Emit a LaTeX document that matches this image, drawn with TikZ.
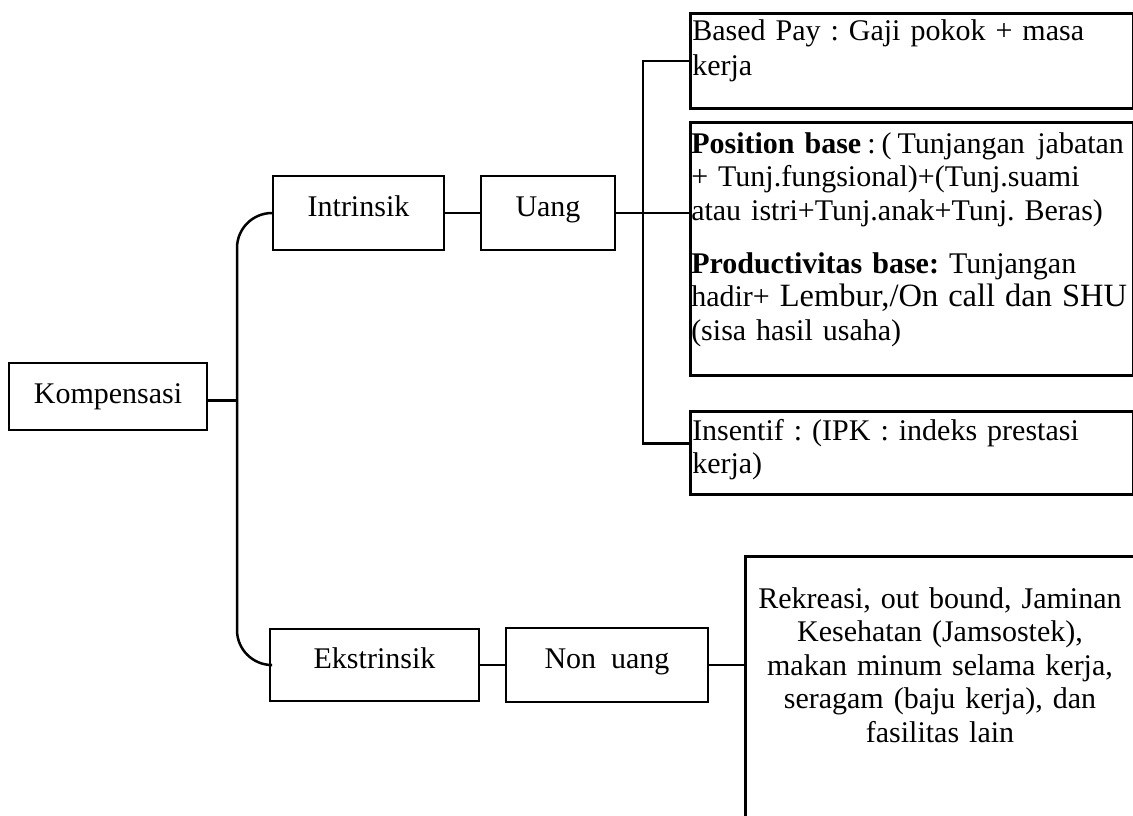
\documentclass[tikz,border=0pt]{standalone}
\usepackage{fontspec}
\setmainfont{Liberation Serif}
\frenchspacing
\begin{document}
\begin{tikzpicture}[x=0.4pt,y=-0.4pt,line width=1pt,
  every node/.style={font=\fontsize{12}{13.4}\selectfont\frenchspacing, inner sep=0pt},
  cbox/.style={draw, text height=8.2pt, text depth=5.8pt},
  panel/.style={draw, anchor=north west, minimum width=177.2pt},
  ltext/.style={align=left, text width=200pt, anchor=base west},
  ctext/.style={align=center, text width=170pt, anchor=base}]
\useasboundingbox (0,0) rectangle (1133,815);
\clip (0,0) rectangle (1133,815);

% first level
\node[cbox, minimum width=79.2pt, minimum height=26.8pt, text depth=3pt] (komp) at (108,396.5) {Kompensasi};

% second and third level boxes
\node[cbox, minimum width=68.4pt, minimum height=29.6pt] (intr) at (358.5,213) {Intrinsik};
\node[cbox, minimum width=53.6pt, minimum height=29.6pt] (uang) at (548,213) {Uang};
\node[cbox, minimum width=83.6pt, minimum height=28.8pt] (ekst) at (374.5,665) {Ekstrinsik};
\node[cbox, minimum width=80.8pt, minimum height=29.6pt] (nonu) at (607,665) {Non\ \ uang};

% detail panels
\node[panel, minimum height=38pt] (b1) at (689,12) {};
\node[panel, minimum height=101.2pt] (b2) at (689,121) {};
\node[panel, minimum height=33.2pt] (b3) at (689,410) {};
\node[draw, anchor=north west, minimum width=157.6pt, minimum height=110pt] (big) at (744,555) {};

\node[ltext] (b1t) at (691,40) {Based Pay : Gaji pokok + masa\\[0.6pt]kerja};
\node[ltext] (b2t) at (690,153) {\textbf{Position base}\hspace{2.4pt}:\hspace{2.4pt}(\hspace{2.4pt}Tunjangan\hspace{5pt}jabatan\\
+ Tunj.fungsional)+(Tunj.suami\\
atau istri+Tunj.anak+Tunj. Beras)\\[7.8pt]
\textbf{Productivitas base:} Tunjangan\\
hadir+ {\fontsize{13}{13.4}\selectfont Lembur,/On call dan SHU}\\
(sisa hasil usaha)};
\node[ltext] (b3t) at (691,440) {Insentif : (IPK : indeks prestasi\\kerja)};
\node[ctext, font=\fontsize{12}{13.45}\selectfont\frenchspacing] (bigt) at (940,608) {Rekreasi, out bound, Jaminan\\
Kesehatan (Jamsostek),\\
makan minum selama kerja,\\
seragam (baju kerja), dan\\
fasilitas lain};

% trunk joining the two branches
\coordinate (tt) at (237,213);
\coordinate (tb) at (237,665);
\draw[rounded corners=14pt] (intr.west) -- (tt) -- (tb) -- (ekst.west);
\draw ([yshift=-1.6pt]komp.east) -- ([yshift=-1.6pt]komp.east -| tt);

% chains
\draw (intr.east) -- (uang.west);
\draw (uang.east) -- (uang.east -| b2.west);
\draw (ekst.east) -- (nonu.west);
\draw (nonu.east) -- (nonu.east -| big.west);

% bracket over the money panels
\coordinate (bx) at (643,0);
\coordinate (b3j) at ([yshift=3.8pt]b3.west);
\draw (b1.west) -- (b1.west -| bx) -- (b3j -| bx) -- (b3j);
\end{tikzpicture}
\end{document}
